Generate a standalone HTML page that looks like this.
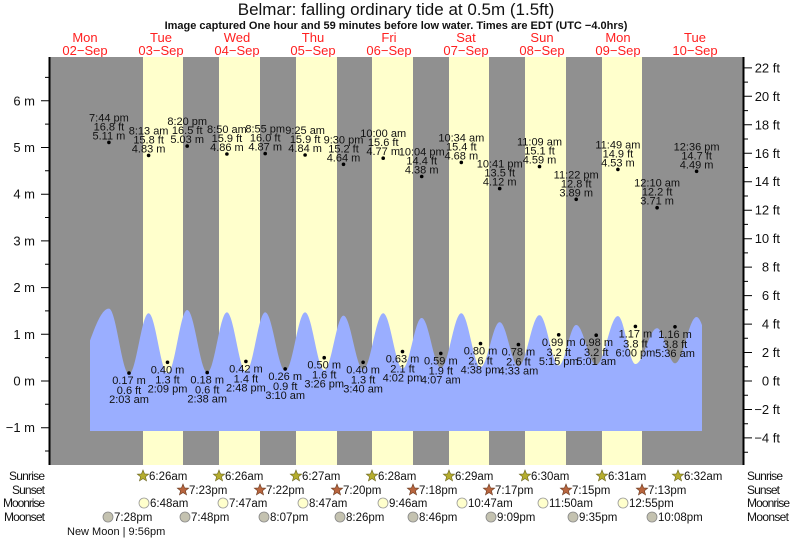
<!DOCTYPE html>
<html><head><meta charset="utf-8"><style>
html,body{margin:0;padding:0;background:#fff;}
svg{display:block;font-family:"Liberation Sans",sans-serif;}
.d{fill:#ff2020;font-size:13px;text-anchor:middle}
.t{font-size:11px;fill:#111;text-anchor:middle}
.ax{font-size:13px;fill:#111}
.r{font-size:11px;fill:#111}
</style></head><body>
<svg id="s" width="793" height="539" viewBox="0 0 793 539" xmlns="http://www.w3.org/2000/svg">
<defs>
<polygon id="star" points="0,-6 1.53,-2.1 5.71,-1.85 2.47,0.8 3.53,4.85 0,2.6 -3.53,4.85 -2.47,0.8 -5.71,-1.85 -1.53,-2.1"/>
</defs>
<text x="396" y="15" text-anchor="middle" font-size="17" fill="#111">Belmar: falling  ordinary tide at 0.5m (1.5ft)</text>
<text x="396" y="29" text-anchor="middle" font-size="11" font-weight="bold" fill="#111">Image captured One hour and 59 minutes before low water. Times are EDT (UTC −4.0hrs)</text>
<g class="d">
<text x="85" y="42">Mon</text><text x="85" y="55">02−Sep</text>
<text x="161" y="42">Tue</text><text x="161" y="55">03−Sep</text>
<text x="237" y="42">Wed</text><text x="237" y="55">04−Sep</text>
<text x="313" y="42">Thu</text><text x="313" y="55">05−Sep</text>
<text x="389" y="42">Fri</text><text x="389" y="55">06−Sep</text>
<text x="466" y="42">Sat</text><text x="466" y="55">07−Sep</text>
<text x="542" y="42">Sun</text><text x="542" y="55">08−Sep</text>
<text x="618" y="42">Mon</text><text x="618" y="55">09−Sep</text>
<text x="695" y="42">Tue</text><text x="695" y="55">10−Sep</text>
</g>
<rect x="50" y="57" width="693" height="408" fill="#909090"/>
<g fill="#ffffcc">
<rect x="143" y="57" width="40" height="408"/>
<rect x="219" y="57" width="41" height="408"/>
<rect x="296" y="57" width="41" height="408"/>
<rect x="372" y="57" width="41" height="408"/>
<rect x="449" y="57" width="40" height="408"/>
<rect x="525" y="57" width="41" height="408"/>
<rect x="602" y="57" width="40" height="408"/>
</g>
<path id="tide" fill="#9aaeff" d=""/>
<line x1="49.5" y1="57" x2="49.5" y2="465" stroke="#000" stroke-width="2"/>
<line x1="743.5" y1="57" x2="743.5" y2="465" stroke="#000" stroke-width="2"/>
<g stroke="#000" stroke-width="1">
<path d="M41 100.8H49M41 147.5H49M41 194.2H49M41 240.9H49M41 287.6H49M41 334.3H49M41 381H49M41 427.7H49"/>
<path d="M45 77.4H49M45 124.1H49M45 170.8H49M45 217.5H49M45 264.2H49M45 310.9H49M45 357.6H49M45 404.3H49M45 451H49"/>
<path d="M743 67.9H752M743 96.3H752M743 124.8H752M743 153.3H752M743 181.7H752M743 210.2H752M743 238.7H752M743 267.1H752M743 295.6H752M743 324.1H752M743 352.5H752M743 381H752M743 409.5H752M743 437.9H752"/>
<path d="M743 82.1H748M743 110.6H748M743 139H748M743 167.5H748M743 196H748M743 224.4H748M743 252.9H748M743 281.4H748M743 309.8H748M743 338.3H748M743 366.8H748M743 395.2H748M743 423.7H748M743 452.2H748"/>
</g>
<g class="ax" text-anchor="end">
<text x="35" y="105.3">6 m</text><text x="35" y="152">5 m</text><text x="35" y="198.7">4 m</text><text x="35" y="245.4">3 m</text><text x="35" y="292.1">2 m</text><text x="35" y="338.8">1 m</text><text x="35" y="385.5">0 m</text><text x="35" y="432.2">−1 m</text>
</g>
<g class="ax" text-anchor="end">
<text x="780" y="72.4">22 ft</text><text x="780" y="100.8">20 ft</text><text x="780" y="129.3">18 ft</text><text x="780" y="157.8">16 ft</text><text x="780" y="186.2">14 ft</text><text x="780" y="214.7">12 ft</text><text x="780" y="243.2">10 ft</text><text x="780" y="271.6">8 ft</text><text x="780" y="300.1">6 ft</text><text x="780" y="328.6">4 ft</text><text x="780" y="357">2 ft</text><text x="780" y="385.5">0 ft</text><text x="780" y="414">−2 ft</text><text x="780" y="442.4">−4 ft</text>
</g>
<g class="t">
<g transform="translate(108.9,142.4)"><circle r="1.8" fill="#000"/><text y="-3">5.11 m</text><text y="-12">16.8 ft</text><text y="-21">7:44 pm</text></g>
<g transform="translate(148.6,155.4)"><circle r="1.8" fill="#000"/><text y="-3">4.83 m</text><text y="-12">15.8 ft</text><text y="-21">8:13 am</text></g>
<g transform="translate(187.2,146.1)"><circle r="1.8" fill="#000"/><text y="-3">5.03 m</text><text y="-12">16.5 ft</text><text y="-21">8:20 pm</text></g>
<g transform="translate(226.9,154)"><circle r="1.8" fill="#000"/><text y="-3">4.86 m</text><text y="-12">15.9 ft</text><text y="-21">8:50 am</text></g>
<g transform="translate(265.2,153.6)"><circle r="1.8" fill="#000"/><text y="-3">4.87 m</text><text y="-12">16.0 ft</text><text y="-21">8:55 pm</text></g>
<g transform="translate(305.1,155)"><circle r="1.8" fill="#000"/><text y="-3">4.84 m</text><text y="-12">15.9 ft</text><text y="-21">9:25 am</text></g>
<g transform="translate(343.5,164.3)"><circle r="1.8" fill="#000"/><text y="-3">4.64 m</text><text y="-12">15.2 ft</text><text y="-21">9:30 pm</text></g>
<g transform="translate(383.2,158.2)"><circle r="1.8" fill="#000"/><text y="-3">4.77 m</text><text y="-12">15.6 ft</text><text y="-21">10:00 am</text></g>
<g transform="translate(421.7,176.5)"><circle r="1.8" fill="#000"/><text y="-3">4.38 m</text><text y="-12">14.4 ft</text><text y="-21">10:04 pm</text></g>
<g transform="translate(461.3,162.4)"><circle r="1.8" fill="#000"/><text y="-3">4.68 m</text><text y="-12">15.4 ft</text><text y="-21">10:34 am</text></g>
<g transform="translate(499.7,188.6)"><circle r="1.8" fill="#000"/><text y="-3">4.12 m</text><text y="-12">13.5 ft</text><text y="-21">10:41 pm</text></g>
<g transform="translate(539.5,166.6)"><circle r="1.8" fill="#000"/><text y="-3">4.59 m</text><text y="-12">15.1 ft</text><text y="-21">11:09 am</text></g>
<g transform="translate(576.2,199.3)"><circle r="1.8" fill="#000"/><text y="-3">3.89 m</text><text y="-12">12.8 ft</text><text y="-21">11:22 pm</text></g>
<g transform="translate(617.9,169.4)"><circle r="1.8" fill="#000"/><text y="-3">4.53 m</text><text y="-12">14.9 ft</text><text y="-21">11:49 am</text></g>
<g transform="translate(657.1,207.7)"><circle r="1.8" fill="#000"/><text y="-3">3.71 m</text><text y="-12">12.2 ft</text><text y="-21">12:10 am</text></g>
<g transform="translate(696.6,171.3)"><circle r="1.8" fill="#000"/><text y="-3">4.49 m</text><text y="-12">14.7 ft</text><text y="-21">12:36 pm</text></g>
</g>
<g class="t">
<g transform="translate(129,373.1)"><circle r="1.8" fill="#000"/><text y="11">0.17 m</text><text y="21">0.6 ft</text><text y="30">2:03 am</text></g>
<g transform="translate(167.5,362.3)"><circle r="1.8" fill="#000"/><text y="11">0.40 m</text><text y="21">1.3 ft</text><text y="30">2:09 pm</text></g>
<g transform="translate(207.2,372.6)"><circle r="1.8" fill="#000"/><text y="11">0.18 m</text><text y="21">0.6 ft</text><text y="30">2:38 am</text></g>
<g transform="translate(245.9,361.4)"><circle r="1.8" fill="#000"/><text y="11">0.42 m</text><text y="21">1.4 ft</text><text y="30">2:48 pm</text></g>
<g transform="translate(285.2,368.9)"><circle r="1.8" fill="#000"/><text y="11">0.26 m</text><text y="21">0.9 ft</text><text y="30">3:10 am</text></g>
<g transform="translate(324.2,357.7)"><circle r="1.8" fill="#000"/><text y="11">0.50 m</text><text y="21">1.6 ft</text><text y="30">3:26 pm</text></g>
<g transform="translate(363.1,362.3)"><circle r="1.8" fill="#000"/><text y="11">0.40 m</text><text y="21">1.3 ft</text><text y="30">3:40 am</text></g>
<g transform="translate(402.5,351.6)"><circle r="1.8" fill="#000"/><text y="11">0.63 m</text><text y="21">2.1 ft</text><text y="30">4:02 pm</text></g>
<g transform="translate(440.8,353.4)"><circle r="1.8" fill="#000"/><text y="11">0.59 m</text><text y="21">1.9 ft</text><text y="30">4:07 am</text></g>
<g transform="translate(480.5,343.6)"><circle r="1.8" fill="#000"/><text y="11">0.80 m</text><text y="21">2.6 ft</text><text y="30">4:38 pm</text></g>
<g transform="translate(518.4,344.6)"><circle r="1.8" fill="#000"/><text y="11">0.78 m</text><text y="21">2.6 ft</text><text y="30">4:33 am</text></g>
<g transform="translate(558.7,334.8)"><circle r="1.8" fill="#000"/><text y="11">0.99 m</text><text y="21">3.2 ft</text><text y="30">5:15 pm</text></g>
<g transform="translate(596.2,335.2)"><circle r="1.8" fill="#000"/><text y="11">0.98 m</text><text y="21">3.2 ft</text><text y="30">5:01 am</text></g>
<g transform="translate(635.4,326.4)"><circle r="1.8" fill="#000"/><text y="11">1.17 m</text><text y="21">3.8 ft</text><text y="30">6:00 pm</text></g>
<g transform="translate(675,326.8)"><circle r="1.8" fill="#000"/><text y="11">1.16 m</text><text y="21">3.8 ft</text><text y="30">5:36 am</text></g>
</g>
<g class="r" style="font-size:12px">
<text x="9" y="480" textLength="36">Sunrise</text><text x="12" y="494" textLength="33">Sunset</text><text x="3" y="507" textLength="42">Moonrise</text><text x="4" y="521" textLength="41">Moonset</text>
</g>
<g class="r" style="font-size:12px">
<text x="747" y="480" textLength="36">Sunrise</text><text x="747" y="494" textLength="33">Sunset</text><text x="747" y="507" textLength="43">Moonrise</text><text x="747" y="521" textLength="42">Moonset</text>
</g>
<text x="67" y="535" font-size="11" fill="#111">New Moon | 9:56pm</text>
<g fill="#b5ad2e" stroke="#6a6420" stroke-width="0.6">
<use href="#star" x="143" y="476"/><use href="#star" x="219" y="476"/><use href="#star" x="296" y="476"/><use href="#star" x="372" y="476"/><use href="#star" x="449" y="476"/><use href="#star" x="525" y="476"/><use href="#star" x="602" y="476"/><use href="#star" x="678" y="476"/>
</g>
<g fill="#b8653e" stroke="#6a3a20" stroke-width="0.6">
<use href="#star" x="183" y="490"/><use href="#star" x="260" y="490"/><use href="#star" x="337" y="490"/><use href="#star" x="413" y="490"/><use href="#star" x="489" y="490"/><use href="#star" x="566" y="490"/><use href="#star" x="642" y="490"/>
</g>
<g fill="#ffffcc" stroke="#999" stroke-width="0.8">
<circle cx="144" cy="503" r="5"/><circle cx="223" cy="503" r="5"/><circle cx="303" cy="503" r="5"/><circle cx="383" cy="503" r="5"/><circle cx="462" cy="503" r="5"/><circle cx="543" cy="503" r="5"/><circle cx="623" cy="503" r="5"/>
</g>
<g fill="#c4c2b0" stroke="#888" stroke-width="0.8">
<circle cx="108" cy="517" r="5"/><circle cx="185" cy="517" r="5"/><circle cx="264" cy="517" r="5"/><circle cx="340" cy="517" r="5"/><circle cx="413" cy="517" r="5"/><circle cx="491" cy="517" r="5"/><circle cx="573" cy="517" r="5"/><circle cx="652" cy="517" r="5"/>
</g>
<g class="r" style="font-size:11.5px">
<text x="149" y="480">6:26am</text><text x="225" y="480">6:26am</text><text x="302" y="480">6:27am</text><text x="378" y="480">6:28am</text><text x="455" y="480">6:29am</text><text x="531" y="480">6:30am</text><text x="608" y="480">6:31am</text><text x="684" y="480">6:32am</text>
<text x="189" y="494">7:23pm</text><text x="266" y="494">7:22pm</text><text x="343" y="494">7:20pm</text><text x="419" y="494">7:18pm</text><text x="495" y="494">7:17pm</text><text x="572" y="494">7:15pm</text><text x="648" y="494">7:13pm</text>
<text x="150" y="507">6:48am</text><text x="229" y="507">7:47am</text><text x="309" y="507">8:47am</text><text x="389" y="507">9:46am</text><text x="468" y="507">10:47am</text><text x="549" y="507">11:50am</text><text x="629" y="507">12:55pm</text>
<text x="114" y="521">7:28pm</text><text x="191" y="521">7:48pm</text><text x="270" y="521">8:07pm</text><text x="346" y="521">8:26pm</text><text x="419" y="521">8:46pm</text><text x="497" y="521">9:09pm</text><text x="579" y="521">9:35pm</text><text x="658" y="521">10:08pm</text>
</g>
</svg>
<script>
(function(){
var P=[[108.9,1.55],[148.6,1.45],[187.2,1.52],[226.9,1.47],[265.2,1.47],[305.1,1.47],[343.5,1.40],[383.2,1.45],[421.7,1.35],[461.3,1.45],[499.7,1.26],[539.5,1.41],[576.2,1.2],[617.9,1.39],[657.1,1.13],[696.6,1.37]];
var L=[129,167.5,207.2,245.9,285.2,324.2,363.1,402.5,440.8,480.5,518.4,558.7,596.2,635.4,675];
var E=[[70,0.12]];
for(var i=0;i<P.length;i++){E.push(P[i]);if(i<L.length){var x=L[i];var v=0.15+0.23*(x-129)/(675-129);E.push([x,v]);}}
E.push([716,0.4]);
function h(x){for(var i=0;i<E.length-1;i++){var a=E[i],b=E[i+1];if(x>=a[0]&&x<=b[0]){var t=(x-a[0])/(b[0]-a[0]);return a[1]+(b[1]-a[1])*(1-Math.cos(Math.PI*t))/2;}}return 0.4;}
var d="M90 431";
for(var x=90;x<=702;x+=0.5){d+=" L"+x+" "+(381-46.7*h(x)).toFixed(1);}
d+=" L702 431Z";
document.getElementById("tide").setAttribute("d",d);
})();
</script>
</body></html>
